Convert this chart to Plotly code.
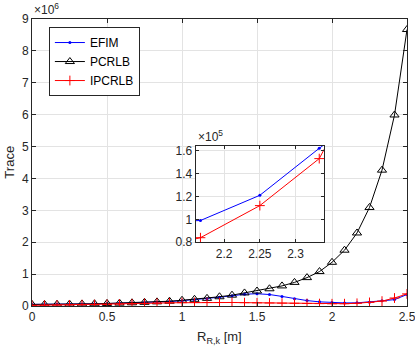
import plotly.graph_objects as go

# range R_{R,k} [m]
r = [0.0, 0.0833, 0.1667, 0.25, 0.3333, 0.4167, 0.5, 0.5833, 0.6667, 0.75,
     0.8333, 0.9167, 1.0, 1.0833, 1.1667, 1.25, 1.3333, 1.4167, 1.5, 1.5833,
     1.6667, 1.75, 1.8333, 1.9167, 2.0, 2.0833, 2.1667, 2.25, 2.3333, 2.4167, 2.5]

# trace values, in units of 1e6
efim = [0.05, 0.05, 0.053, 0.057, 0.062, 0.067, 0.075, 0.085, 0.095, 0.108,
        0.122, 0.14, 0.165, 0.195, 0.23, 0.275, 0.32, 0.37, 0.385, 0.36,
        0.3, 0.23, 0.17, 0.13, 0.108, 0.097, 0.099, 0.121, 0.162, 0.2, 0.36]
pcrlb = [0.05, 0.05, 0.055, 0.06, 0.065, 0.07, 0.08, 0.09, 0.1, 0.115,
         0.13, 0.15, 0.18, 0.21, 0.24, 0.29, 0.34, 0.41, 0.47, 0.54,
         0.63, 0.74, 0.89, 1.08, 1.37, 1.75, 2.29, 3.09, 4.26, 5.99, 8.67]
ipcrlb = [0.02, 0.025, 0.03, 0.035, 0.04, 0.045, 0.05, 0.06, 0.07, 0.08,
          0.09, 0.1, 0.105, 0.11, 0.11, 0.11, 0.11, 0.105, 0.1, 0.095,
          0.09, 0.085, 0.08, 0.075, 0.07, 0.072, 0.084, 0.112, 0.153, 0.25, 0.38]

FONT = 'Liberation Sans, Arial, sans-serif'
AX = '#262626'
GRID = '#e3e3e3'

# inset shows the same curves in units of 1e5
efim_in = [v * 10 for v in efim]
ipcrlb_in = [v * 10 for v in ipcrlb]

fig = go.Figure()
fig.add_trace(go.Scatter(x=r, y=efim, name='EFIM', mode='lines+markers',
                         line=dict(color='#0000ff', width=1),
                         marker=dict(symbol='circle', size=3, color='#0000ff')))
fig.add_trace(go.Scatter(x=r, y=pcrlb, name='PCRLB', mode='lines+markers',
                         line=dict(color='black', width=1),
                         marker=dict(symbol='triangle-up-open', size=8, color='black',
                                     line=dict(width=1))))
fig.add_trace(go.Scatter(x=r, y=ipcrlb, name='IPCRLB', mode='lines+markers',
                         line=dict(color='#ff0000', width=1),
                         marker=dict(symbol='cross-thin-open', size=7, color='#ff0000',
                                     line=dict(width=1, color='#ff0000'))))

# inset
fig.add_trace(go.Scatter(x=r, y=efim_in, xaxis='x2', yaxis='y2', mode='lines+markers',
                         line=dict(color='#0000ff', width=1),
                         marker=dict(symbol='circle', size=3, color='#0000ff'),
                         showlegend=False))
fig.add_trace(go.Scatter(x=r, y=ipcrlb_in, xaxis='x2', yaxis='y2', mode='lines+markers',
                         line=dict(color='#ff0000', width=1),
                         marker=dict(symbol='cross-thin-open', size=7, color='#ff0000',
                                     line=dict(width=1, color='#ff0000')),
                         showlegend=False))

axis_common = dict(showline=True, linecolor=AX, linewidth=1, mirror='ticks',
                   ticks='inside', tickcolor=AX, showgrid=True, gridcolor=GRID,
                   zeroline=False, automargin=False, ticklabeloverflow='allow',
                   tickfont=dict(family=FONT, size=12, color=AX))

fig.update_layout(
    width=415, height=354,
    margin=dict(l=32, r=8, t=19, b=48),
    paper_bgcolor='white', plot_bgcolor='white',
    font=dict(family=FONT, size=12, color=AX),
    xaxis=dict(range=[0, 2.5], dtick=0.5, ticklen=4, **axis_common),
    yaxis=dict(range=[0, 9], dtick=1, ticklen=4, **axis_common),
    xaxis2=dict(domain=[0.4365, 0.7787], anchor='y2', range=[2.16, 2.34],
                tick0=0, dtick=0.05, ticklen=3, **axis_common),
    yaxis2=dict(domain=[0.222, 0.5575], anchor='x2', range=[0.8, 1.64],
                tick0=0, dtick=0.2, ticklen=3, **axis_common),
    legend=dict(x=0.045, y=0.972, xanchor='left', yanchor='top',
                bgcolor='white', bordercolor=AX, borderwidth=1,
                font=dict(family=FONT, size=12, color='black'),
                itemwidth=30, tracegroupgap=0),
    shapes=[dict(type='rect', xref='x2 domain', yref='y2 domain', x0=0, x1=1, y0=0, y1=1,
                 fillcolor='white', line=dict(width=0), layer='below')],
    annotations=[
        dict(text='\u00d710<sup>6</sup>', xref='paper', yref='paper', x=0, y=1,
             xanchor='left', yanchor='bottom', showarrow=False,
             font=dict(family=FONT, size=12, color=AX)),
        dict(text='\u00d710<sup>5</sup>', xref='x2 domain', yref='y2 domain', x=0, y=1,
             xanchor='left', yanchor='bottom', showarrow=False,
             font=dict(family=FONT, size=12, color=AX)),
        dict(text='Trace', xref='paper', yref='paper', x=-0.061, y=0.5,
             xanchor='center', yanchor='middle', textangle=-90, showarrow=False,
             font=dict(family=FONT, size=13, color=AX)),
        dict(text='R<sub>R,k</sub> [m]', xref='paper', yref='paper', x=0.5, y=-0.11,
             xanchor='center', yanchor='middle', showarrow=False,
             font=dict(family=FONT, size=13, color=AX)),
    ],
)

# drop the default page margin so the figure sits at the window origin
fig.write_html('out.html', config={'displayModeBar': False},
               post_script="document.body.style.margin='0';")
